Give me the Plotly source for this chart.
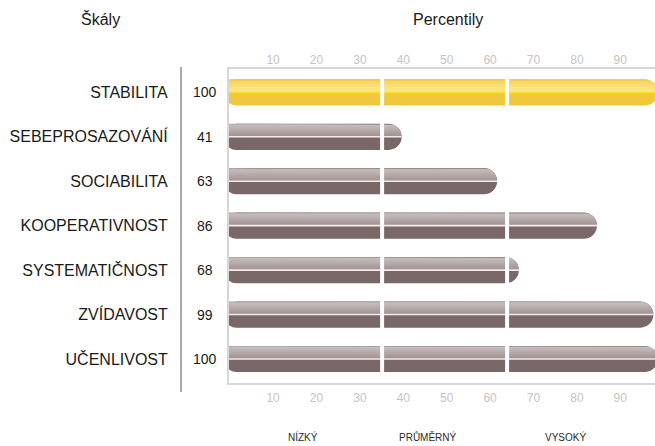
import numpy as np
import plotly.graph_objects as go

# Percentile profile: scales and their percentile scores
scales = ["STABILITA", "SEBEPROSAZOVÁNÍ", "SOCIABILITA", "KOOPERATIVNOST",
          "SYSTEMATIČNOST", "ZVÍDAVOST", "UČENLIVOST"]
percentiles = [100, 41, 63, 86, 68, 99, 100]
highlighted = ["STABILITA"]

tick_values = [10, 20, 30, 40, 50, 60, 70, 80, 90]
band_labels = ["NÍZKÝ", "PRŮMĚRNÝ", "VYSOKÝ"]
band_breaks = [36.5, 65.3]

# Canvas / layout geometry
W, H = 655, 446
ML, MR, MT, MB = 229, 0, 69, 63
X_RANGE = [1.22, 99.38]
Y_RANGE = [6.54, -0.525]
BAR_W = 0.59

plot_w = W - ML - MR
plot_h = H - MT - MB
px_per_x = plot_w / (X_RANGE[1] - X_RANGE[0])
px_per_y = plot_h / abs(Y_RANGE[0] - Y_RANGE[1])
r_px = BAR_W * px_per_y / 2          # radius of the rounded bar end
rx = r_px / px_per_x                 # radius in x data units
ry = BAR_W / 2                       # radius in y data units

GRAY = dict(base="#7a6767", scale=[[0, "#a99b9b"], [0.12, "#c6bcbc"], [1, "#9e8f8f"]],
            mid="#f1ebeb")
GOLD = dict(base="#f1c83c", scale=[[0, "#eec13a"], [0.18, "#f6d65e"], [1, "#fde98e"]],
            mid="#fbe31c")

ypos = list(range(len(scales)))
styles = [GOLD if s in highlighted else GRAY for s in scales]

fig = go.Figure()

# Main bars (darker lower half, rounded end)
fig.add_trace(go.Bar(
    x=percentiles, y=ypos, orientation="h", width=BAR_W, base=0,
    marker=dict(color=[st["base"] for st in styles], cornerradius="50%",
                line=dict(width=0)),
    hovertemplate="%{customdata}: %{x}<extra></extra>", customdata=scales,
    showlegend=False,
))

# Glossy upper half of each bar with a vertical gradient
theta = np.linspace(np.pi / 2, 0, 24)
for i, (v, st) in enumerate(zip(percentiles, styles)):
    xs = [0, v - rx] + list(v - rx + rx * np.cos(theta)) + [0]
    ys = [i - ry, i - ry] + list(i - ry * np.sin(theta)) + [i]
    fig.add_trace(go.Scatter(
        x=xs, y=ys, mode="lines", fill="toself", line=dict(width=0),
        fillgradient=dict(type="vertical", colorscale=st["scale"],
                          start=i - ry, stop=i),
        hoverinfo="skip", showlegend=False,
    ))
    # thin bright line along the middle
    fig.add_trace(go.Scatter(
        x=[0, v], y=[i, i], mode="lines",
        line=dict(color=st["mid"], width=1.6),
        hoverinfo="skip", showlegend=False,
    ))

# keeps the top axis alive
fig.add_trace(go.Scatter(x=[None], y=[None], xaxis="x2", showlegend=False,
                         hoverinfo="skip"))

# White breaks between percentile bands
shapes = []
for b in band_breaks:
    shapes.append(dict(type="rect", xref="x", yref="y", x0=b - 0.46, x1=b + 0.46,
                       y0=-0.45, y1=len(scales) - 1 + 0.45,
                       fillcolor="white", line=dict(width=0), layer="above"))
# Separator between scale names and scores
shapes.append(dict(type="line", xref="paper", yref="paper",
                   x0=(181 - ML) / plot_w, x1=(181 - ML) / plot_w,
                   y0=(H - MB - 392) / plot_h, y1=(H - MB - 67) / plot_h,
                   line=dict(color="#a9a9a9", width=2)))

annotations = []
for i, v in enumerate(percentiles):
    annotations.append(dict(text=str(v), xref="paper", yref="y",
                            x=(205 - ML) / plot_w, y=i, showarrow=False,
                            xanchor="center", yanchor="middle",
                            font=dict(size=14, color="#1a1a1a")))

def paper_y(py):
    return (H - MB - py) / plot_h

annotations.append(dict(text="Škály", xref="paper", yref="paper",
                        x=(100 - ML) / plot_w, y=paper_y(19), showarrow=False,
                        xanchor="center", yanchor="middle",
                        font=dict(size=16, color="#1a1a1a")))
annotations.append(dict(text="Percentily", xref="paper", yref="paper",
                        x=(448 - ML) / plot_w, y=paper_y(20), showarrow=False,
                        xanchor="center", yanchor="middle",
                        font=dict(size=16, color="#1a1a1a")))
for lab, px in zip(band_labels, [303, 428, 565]):
    annotations.append(dict(text=lab, xref="paper", yref="paper",
                            x=(px - ML) / plot_w, y=paper_y(437), showarrow=False,
                            xanchor="center", yanchor="middle",
                            font=dict(size=10, color="#2a2a2a")))

axis_line = dict(showline=True, linecolor="#d7d7d7", linewidth=2)
xcommon = dict(range=X_RANGE, tickvals=tick_values, ticks="", showgrid=False,
               zeroline=False, fixedrange=True, ticklabelshift=6,
               tickfont=dict(size=12, color="#c4c4c4"), **axis_line)

fig.update_layout(
    width=W, height=H,
    margin=dict(l=ML, r=MR, t=MT, b=MB, pad=0),
    paper_bgcolor="white", plot_bgcolor="white",
    font=dict(family="Liberation Sans, Arial, sans-serif"),
    barmode="overlay",
    xaxis=dict(side="bottom", ticklabelstandoff=3, **xcommon),
    xaxis2=dict(side="top", overlaying="x", ticklabelstandoff=-2, **xcommon),
    yaxis=dict(range=Y_RANGE, tickvals=ypos, ticktext=scales, ticks="",
               showgrid=False, zeroline=False, fixedrange=True,
               ticklabelstandoff=56,
               tickfont=dict(size=16, color="#1a1a1a"), **axis_line),
    shapes=shapes, annotations=annotations,
    showlegend=False,
)

fig.write_html("out.html")
